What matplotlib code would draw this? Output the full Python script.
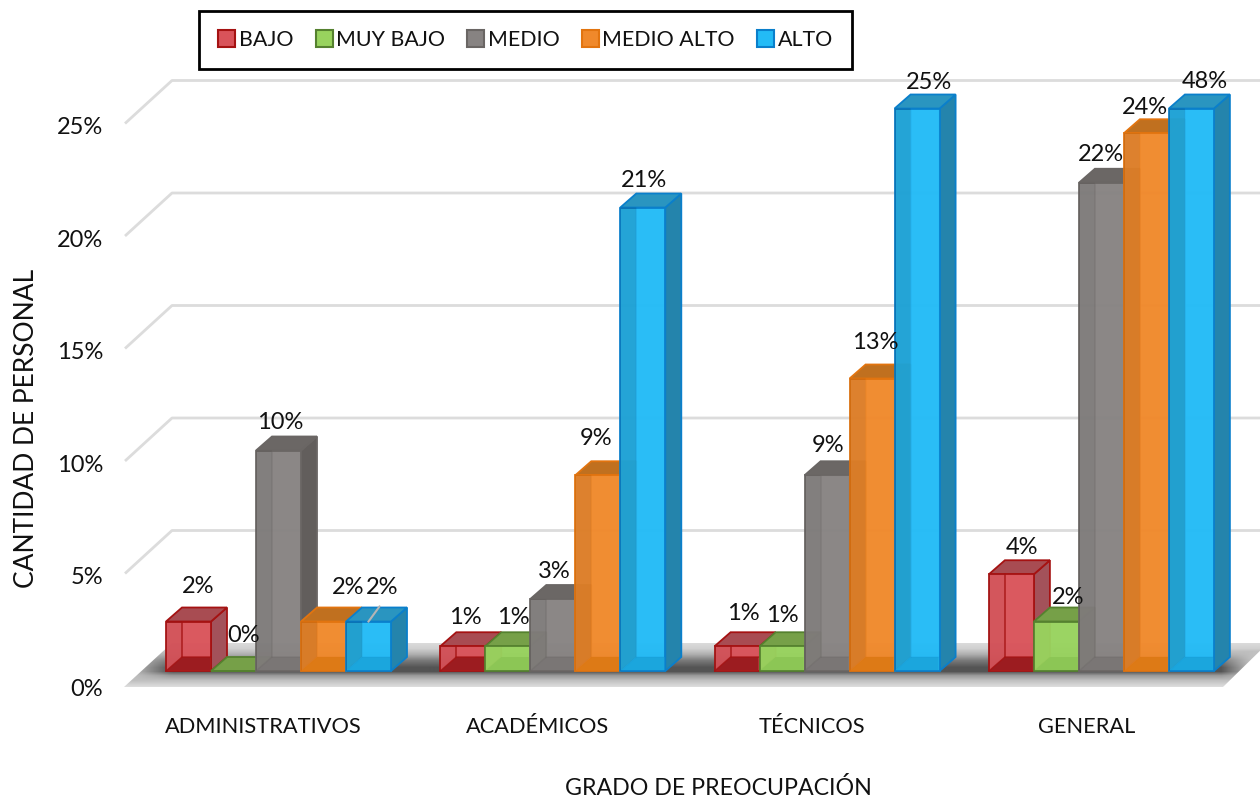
import numpy as np
import matplotlib
matplotlib.use("Agg")
import matplotlib.pyplot as plt
from matplotlib.patches import Patch, Polygon

# datos
categorias = ["ADMINISTRATIVOS", "ACADÉMICOS", "TÉCNICOS", "GENERAL"]
series = ["BAJO", "MUY BAJO", "MEDIO", "MEDIO ALTO", "ALTO"]
bajo = [2.2, 1.1, 1.1, 4.3]
muy_bajo = [0.0, 1.1, 1.1, 2.2]
medio = [9.8, 3.2, 8.7, 21.7]
medio_alto = [2.2, 8.7, 13.0, 23.9]
alto = [2.2, 20.6, 25.0, 48.0]
etiquetas = [
    ["2%", "1%", "1%", "4%"],
    ["0%", "1%", "1%", "2%"],
    ["10%", "3%", "9%", "22%"],
    ["2%", "9%", "13%", "24%"],
    ["2%", "21%", "25%", "48%"],
]
ticks_y = [0, 5, 10, 15, 20, 25]
y_max = 25  # el eje corta las barras aqui

valores = [bajo, muy_bajo, medio, medio_alto, alto]

# estilos: frente, borde, lateral, techo, base, alfa banda, alfa lineas internas
estilos = [
    ("#d9535a", "#a51212", "#a3525a", "#a84c52", "#9c1c20", 0.03, 0.8),
    ("#98d35e", "#55812f", "#7d9d55", "#76a048", "#8cc655", 0.0, 0.0),
    ("#878382", "#6a6664", "#625e5c", "#6b6765", "#7a7675", 0.06, 0.3),
    ("#f0892b", "#e2740f", "#c9761f", "#c0701f", "#dd7a16", 0.08, 0.15),
    ("#23bbf6", "#0a7fcb", "#2484ac", "#2a95c0", "#1ba6dd", 0.13, 0.1),
]

# ajuste fino de las etiquetas (px) respecto al centro del techo de la barra
ajuste = [
    [(10, 35), (3, 29), (6, 33), (11, 27)],
    [(10, 35), (6, 29), (0, 31), (12, 24)],
    [(2, 28), (1, 28), (1, 30), (0, 28)],
    [(25, 34), (-2, 37), (3, 36), (-1, 26)],
    [(14, 34), (1, 27), (12, 26), (13, 27)],
]

W, H = 1260, 799
GRUPO = 274.3   # px por categoria
Y_PX = 22.5     # px por 1%
X0, Y0 = 278.5, 671
ANCHO = 45 / GRUPO
PX = 1 / GRUPO
PY = 1 / Y_PX
DX, DY = 16 * PX, 14 * PY

plt.rcParams["font.family"] = ["Lato", "DejaVu Sans"]


def xd(p):  # px a datos
    return (p - X0) * PX


def yd(p):
    return (Y0 - p) * PY


fig = plt.figure(figsize=(W / 100, H / 100), dpi=100)
ax = fig.add_axes([0, 0, 1, 1])
ax.axis("off")

# suelo con degradado
filas = np.arange(640, 690)
cols = np.arange(120, 1276, 4)
perfil = np.interp(filas, [640, 648, 654, 660, 667, 671, 675, 680, 687],
                   [0.88, 0.82, 0.68, 0.48, 0.33, 0.33, 0.6, 0.75, 0.88])
desv = np.clip(np.minimum((cols - 130) / 40, (1250 - cols) / 30), 0, 1)
imagen = np.outer(perfil, desv) + np.outer(np.maximum(perfil, 0.75), 1 - desv)
suelo = ax.imshow(imagen, cmap="gray", vmin=0, vmax=1, aspect="auto", interpolation="bilinear",
                  extent=(xd(120), xd(1275), yd(690), yd(640)), zorder=1)
poly_suelo = Polygon([(xd(124), yd(687)), (xd(172), yd(643)), (xd(1268), yd(643)), (xd(1223), yd(687))],
                     transform=ax.transData, fc="none", ec="none")
ax.add_patch(poly_suelo)
suelo.set_clip_path(poly_suelo)

# lineas de cuadricula (pared lateral y fondo)
for t in ticks_y[1:]:
    fy = t - 15 * PY
    ax.plot([xd(125), xd(172), xd(1262)], [fy, fy + 43 * PY, fy + 43 * PY],
            color="#dcdcdc", lw=2, zorder=1, solid_capstyle="butt")

# barras
orden = 2
for g in range(len(categorias)):
    for s in range(len(series)):
        fr, bo, la, te, ba, alfa_banda, alfa_linea = estilos[s]
        v = min(valores[s][g], y_max)
        izq = g + (s - 2.5) * ANCHO
        der = izq + ANCHO
        # lateral y techo
        ax.add_patch(Polygon([(der, 0), (der + DX, DY), (der + DX, v + DY), (der, v)],
                             fc=la, ec=bo, lw=1.3, zorder=orden))
        ax.add_patch(Polygon([(izq, v), (izq + DX, v + DY), (der + DX, v + DY), (der, v)],
                             fc=te, ec=bo, lw=1.3, zorder=orden))
        # frente
        ax.bar(izq, v, width=ANCHO, align="edge", color=fr, edgecolor=bo, lw=1.3, alpha=0.97, zorder=orden + 0.1)
        # cara izquierda y base vistas a traves del frente
        if v > 14 * PY:
            ax.add_patch(Polygon([(izq, 0), (izq + DX, DY), (izq + DX, v), (izq, v)],
                                 fc="black", alpha=alfa_banda, ec="none", zorder=orden + 0.2))
            ax.add_patch(Polygon([(izq + 1 * PX, 1 * PY), (izq + DX, DY), (der - 1 * PX, DY), (der - 1 * PX, 1 * PY)],
                                 fc=ba, ec="none", zorder=orden + 0.2))
            ax.plot([izq + DX, izq + DX], [DY, v], color=bo, lw=1.2, alpha=alfa_linea, zorder=orden + 0.3)
            ax.plot([izq, izq + DX, der], [0, DY, DY], color=bo, lw=1.0, alpha=alfa_linea, zorder=orden + 0.3)
        orden += 1

# etiquetas de datos
for s in range(len(series)):
    for g in range(len(categorias)):
        v = min(valores[s][g], y_max)
        cx = g + (s - 2.0) * ANCHO
        nx, ny = ajuste[s][g]
        ax.annotate(etiquetas[s][g], (cx, v), xytext=(nx * 0.72, ny * 0.72), textcoords="offset points",
                    ha="center", va="center", fontsize=17, color="#111111", zorder=300)

# linea guia de la etiqueta de ALTO en ADMINISTRATIVOS
cx = 0 + 2.0 * ANCHO
ax.plot([cx, cx + 11 * PX], [alto[0], alto[0] + 15 * PY], color="#b5b5b5", lw=1.5, zorder=299)

# ejes
for t in ticks_y:
    ax.text(xd(103), t - 19 * PY, f"{t}%", ha="right", va="center", fontsize=17, color="#111111")
for g, c in enumerate(categorias):
    ax.text(g - 15 * PX, yd(727), c, ha="center", va="center", fontsize=15.7, color="#111111")
ax.text(xd(718), yd(788), "GRADO DE PREOCUPACIÓN", ha="center", va="center", fontsize=16.7, color="#111111")
ax.text(xd(26), yd(428), "CANTIDAD DE PERSONAL", ha="center", va="center", rotation=90,
        fontsize=19, color="#111111")

ax.set_xlim(xd(0), xd(W))
ax.set_ylim(yd(H), yd(0))

# leyenda
manejadores = [Patch(facecolor=e[0], edgecolor=e[1], lw=1.5, label=n) for e, n in zip(estilos, series)]
ley = ax.legend(handles=manejadores, ncol=5, loc="center", bbox_to_anchor=(525.5 / W, 1 - 40 / H),
                fontsize=15.4, frameon=True, fancybox=False, edgecolor="black", framealpha=1,
                handlelength=0.8, handleheight=0.8, handletextpad=0.15, columnspacing=1.05,
                borderpad=0.9, labelcolor="#111111")
ley.get_frame().set_linewidth(2)
ley.set_zorder(400)

fig.savefig("out.png", dpi=100)
